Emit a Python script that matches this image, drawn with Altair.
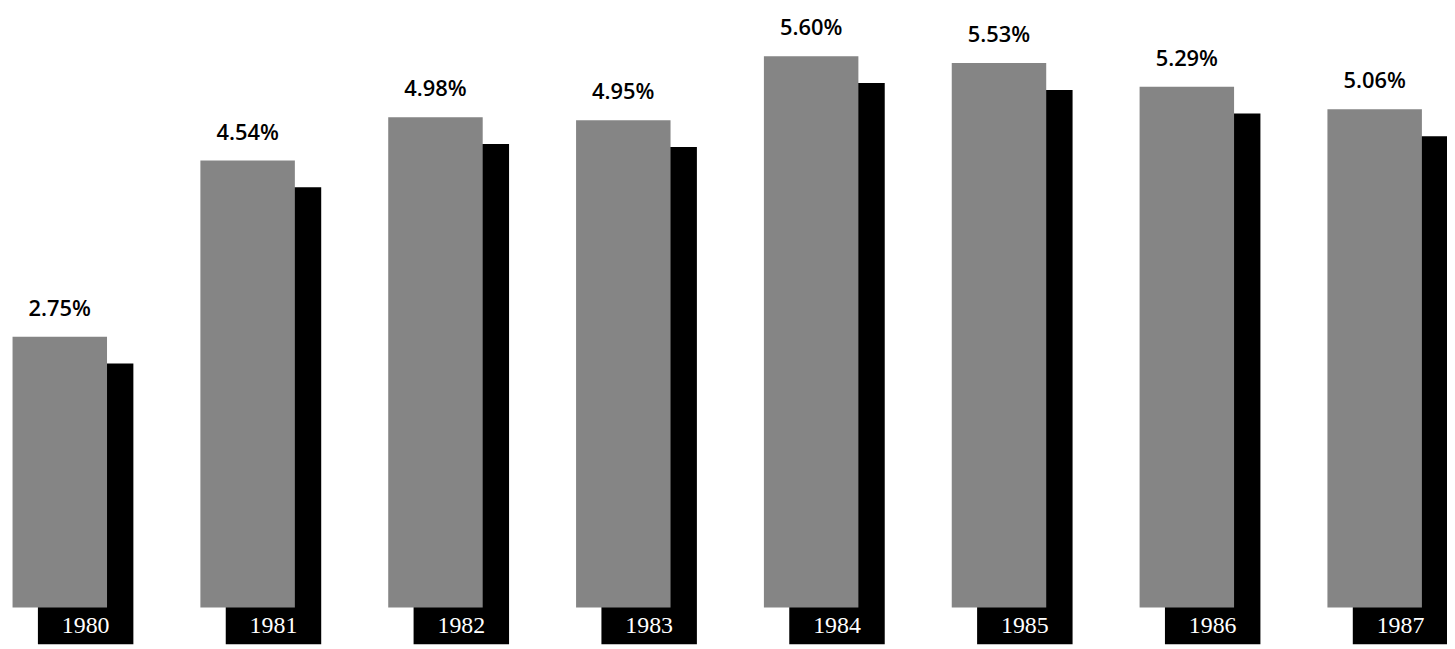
import altair as alt
import pandas as pd

years = [1980, 1981, 1982, 1983, 1984, 1985, 1986, 1987]
rates = [2.75, 4.54, 4.98, 4.95, 5.60, 5.53, 5.29, 5.06]
rate_labels = ["2.75%", "4.54%", "4.98%", "4.95%", "5.60%", "5.53%", "5.29%", "5.06%"]
year_labels = ["1980", "1981", "1982", "1983", "1984", "1985", "1986", "1987"]

df = pd.DataFrame({
    "year": years,
    "rate": rates,
    "rate_label": rate_labels,
    "year_label": year_labels,
})

x = alt.X("year:Q", scale=alt.Scale(domain=[1979.7508, 1987.3586], nice=False, zero=False), axis=None)
y = alt.Y("rate:Q", scale=alt.Scale(domain=[-0.404, 6.071], nice=False, zero=False), axis=None)

base = alt.Chart(df)

shadow = base.mark_bar(size=96, color="black", xOffset=26, yOffset=27, y2Offset=27).encode(
    x=x, y=y, y2=alt.datum(-0.1)
)
gray = base.mark_bar(size=95, color="#858585").encode(
    x=x, y=y, y2=alt.datum(0)
)
pct = base.mark_text(
    font="Open Sans", fontSize=22, fontWeight=600, dy=-21,
    baseline="alphabetic", align="center", color="black"
).encode(x=x, y=y, text="rate_label:N")
yr = base.mark_text(
    font="Liberation Serif", fontSize=24, color="white", xOffset=26,
    baseline="alphabetic", align="center"
).encode(x=x, y=alt.datum(-0.26), text="year_label:N")

chart = alt.layer(shadow, gray, pct, yr).properties(
    width=1447, height=641, padding=0,
    autosize=alt.AutoSizeParams(type="none"),
).configure_view(stroke=None)

chart.save("out.html", embed_options={"renderer": "svg", "actions": False})
